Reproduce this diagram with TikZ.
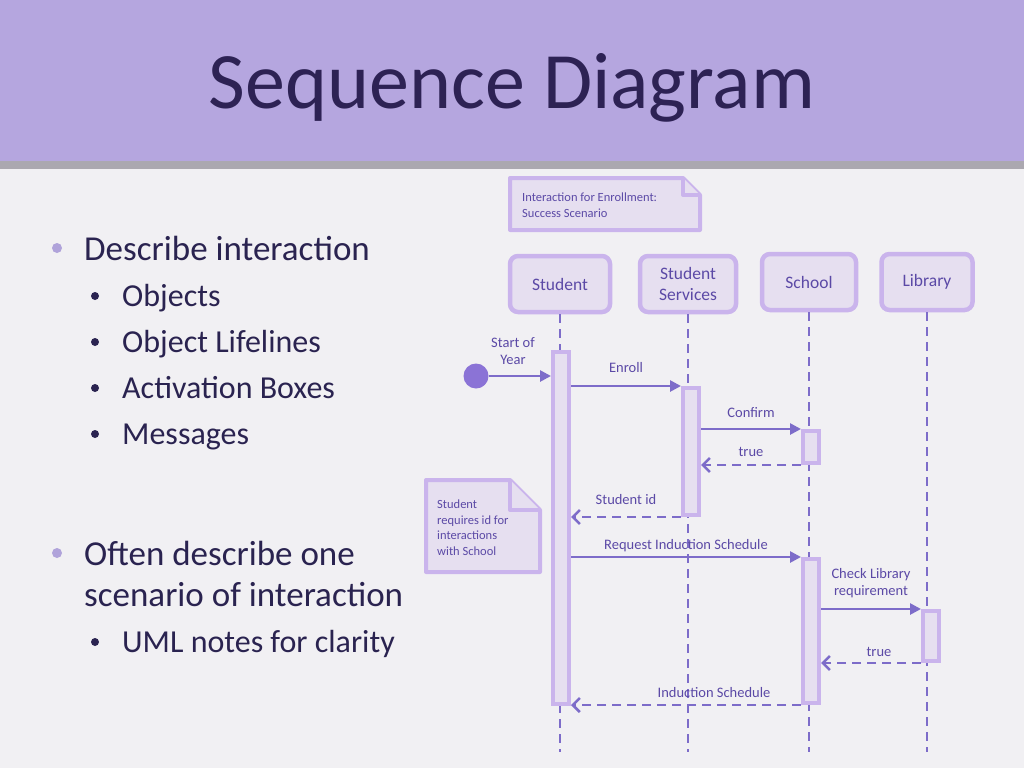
\documentclass[tikz,border=0pt]{standalone}
\usepackage{fontspec}
\setmainfont{Carlito}
\usetikzlibrary{arrows.meta,positioning}
\definecolor{paper}{HTML}{F1F0F3}
\definecolor{band}{HTML}{B5A6DF}
\definecolor{bandshade}{HTML}{ABA8B0}
\definecolor{titletext}{HTML}{2D2254}
\definecolor{bodytext}{HTML}{2A2350}
\definecolor{dotcol}{HTML}{B0A3DA}
\definecolor{boxline}{HTML}{CAB4EC}
\definecolor{boxfill}{HTML}{E6DFF0}
\definecolor{msgcol}{HTML}{7D6CC9}
\definecolor{labtext}{HTML}{5B49A6}
\definecolor{startfill}{HTML}{8B73D6}
\tikzset{
  obj/.style={draw=boxline,line width=4.5pt,fill=boxfill,rounded corners=8pt,minimum height=56pt,align=center,text=labtext,font=\fontsize{17.5}{21}\selectfont},
  act/.style={draw=boxline,line width=4pt,fill=boxfill,minimum width=16pt,inner sep=0pt},
  life/.style={draw=msgcol,dash pattern=on 9pt off 6pt,line width=2.8pt},
  msg/.style={draw=msgcol,line width=2.6pt,-{Triangle[length=11pt,width=11pt]}},
  ret/.style={draw=msgcol,line width=2.6pt,dash pattern=on 9pt off 6pt,-{Straight Barb[length=7pt,width=14pt,line width=2.6pt]}},
  lbl/.style={text=labtext,font=\fontsize{14.5}{17}\selectfont,align=center},
  notetext/.style={text=labtext,font=\fontsize{12.5}{15.5}\selectfont,align=left,inner sep=0pt},
  note/.style={draw=boxline,line width=4pt,fill=boxfill,line join=round},
  bigitem/.style={text=bodytext,font=\fontsize{35}{40}\selectfont,anchor=base west,inner sep=0pt},
  smallitem/.style={text=bodytext,font=\fontsize{32}{37}\selectfont,anchor=base west,inner sep=0pt}
}
\begin{document}
\begin{tikzpicture}[x=1pt,y=-1pt]
\fill[paper] (0,0) rectangle (1024,768);
\fill[bandshade] (0,158) rectangle (1024,169);
\fill[band] (0,0) rectangle (1024,161);
\node[text=titletext,font=\fontsize{80}{90}\selectfont,anchor=base] (title) at (512,108) {Sequence Diagram};

\foreach \y/\t in {260/Describe interaction,565/Often describe one,606/scenario of interaction}
  \node[bigitem] at (84,\y) {\t};
\foreach \y in {248,553}
  \fill[dotcol] (57,\y) circle (5);
\foreach \y/\t in {306/Objects,352/Object Lifelines,398/Activation Boxes,444/Messages,652/UML notes for clarity}
  {\node[smallitem] at (122,\y) {\t};
   \fill[bodytext] (95,\y-10) circle (4);}

\draw[note] (510,178) -- (683,178) -- (700,195) -- (700,230) -- (510,230) -- cycle;
\draw[note] (683,178) -- (683,195) -- (700,195);
\node[notetext,anchor=north west] (note1) at (522,193) {Interaction for Enrollment:\\Success Scenario};

\node[obj,minimum width=100pt] (st) at (560,284) {Student};
\node[obj,minimum width=96pt] (ss) at (688,284) {Student\\Services};
\node[obj,minimum width=94pt] (sc) at (809,282) {School};
\node[obj,minimum width=91pt] (lb) at (927,282) {Library};

\coordinate (bot) at (0,752);
\foreach \o in {st,ss,sc,lb}
  \draw[life] (\o.south) -- (\o.south |- bot);

\node[act,minimum height=352pt] (sa) at (561,528) {};
\node[act,minimum height=127pt] (sv) at (691,451.5) {};
\node[act,minimum height=32pt] (sc1) at (811,447) {};
\node[act,minimum height=144pt] (sc2) at (811,631) {};
\node[act,minimum height=50pt] (lb1) at (931,636) {};

\node[circle,fill=startfill,minimum size=25pt,inner sep=0pt] (start) at (476,376) {};
\node[lbl] (startlbl) at (513,351) {Start of\\Year};
\draw[msg] (start.east) -- (sa.west |- start);

\draw[msg] (sa.east |- sv.north) -- node[lbl,above=9pt] {Enroll} (sv.north west);
\draw[msg] (sv.east |- sc1.north) -- node[lbl,above=7pt] {Confirm} (sc1.north west);
\draw[ret] (sc1.south west) -- node[lbl,above=4pt] {true} (sv.east |- sc1.south);
\draw[ret] (sv.south west) -- node[lbl,above=8pt] {Student id} (sa.east |- sv.south);
\draw[msg] (sa.east |- sc2.north) -- node[lbl,above=1pt] {Request Induction Schedule} (sc2.north west);
\draw[msg] (sc2.east |- lb1.north) -- node[lbl,above=7pt] {Check Library\\requirement} (lb1.north west);
\draw[ret] (lb1.south west) -- node[lbl,above=2pt,xshift=8pt] {true} (sc2.east |- lb1.south);
\draw[ret] (sc2.south west) -- node[lbl,above=3pt,xshift=28pt] {Induction Schedule} (sa.east |- sc2.south);

\draw[note] (426,480) -- (510,480) -- (540,510) -- (540,572) -- (426,572) -- cycle;
\draw[note] (510,480) -- (510,510) -- (540,510);
\node[notetext,anchor=north west] (note2) at (437,500) {Student\\requires id for\\interactions\\with School};
\end{tikzpicture}
\end{document}
